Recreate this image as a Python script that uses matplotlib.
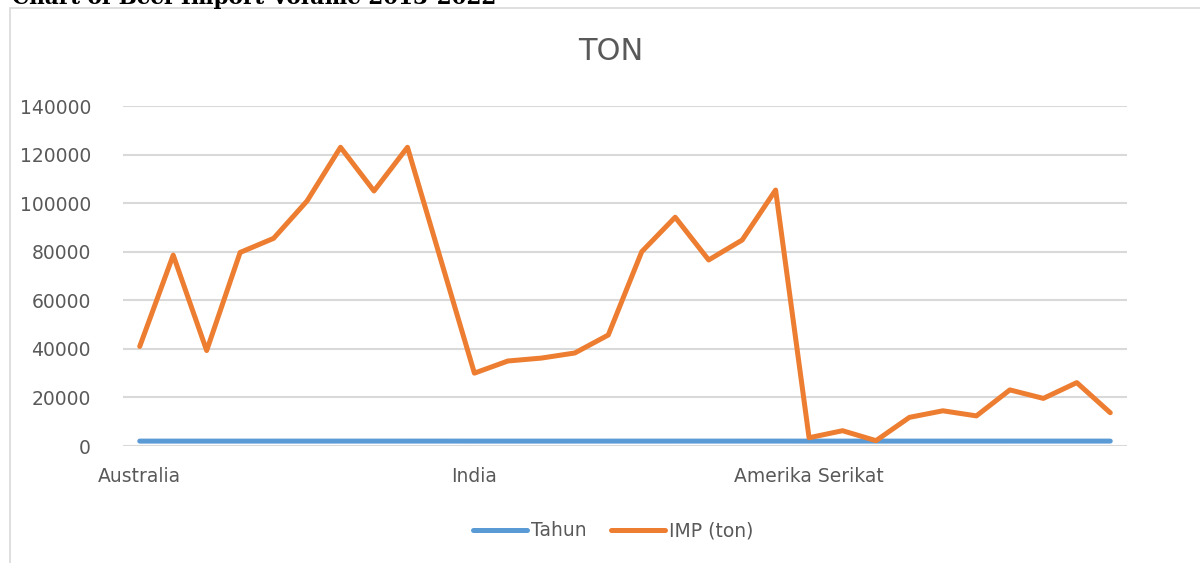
import matplotlib.pyplot as plt
from matplotlib import ticker
from matplotlib.patches import Rectangle

# data
countries = ['Australia', 'India', 'Amerika Serikat']
years = [2013, 2014, 2015, 2016, 2017, 2018, 2019, 2020, 2021, 2022]
tahun = years * len(countries)
imp_ton = [41000, 78600, 39300, 79700, 85500, 100900, 123000, 105000, 123000, 76500,
           30000, 35000, 36200, 38300, 45700, 80000, 94200, 76600, 84800, 105400,
           3400, 6300, 2200, 11800, 14500, 12400, 23100, 19600, 26100, 13700]
y_ticks = [0, 20000, 40000, 60000, 80000, 100000, 120000, 140000]

blue = '#5B9BD5'
orange = '#ED7D31'
grey_txt = '#595959'
grid_c = '#D9D9D9'

W, H = 1200, 563
fig = plt.figure(figsize=(W / 100, H / 100), dpi=100)
plt.rcParams['font.family'] = ['DejaVu Sans']

# chart border (extends beyond the right/bottom edge)
fig.patches.append(Rectangle((10 / W, -20 / H), 1210 / W, (H - 8 + 20) / H,
                             transform=fig.transFigure, fill=False,
                             edgecolor=grid_c, linewidth=1.2, clip_on=False))

# caption above the chart, cut by the top edge as in the page crop
fig.text(12 / W, 1 - 4 / H, 'Chart of Beef Import Volume 2013-2022',
         fontsize=15.5, fontweight='bold', family='DejaVu Serif',
         ha='left', va='baseline', color='black')

ax = fig.add_axes([123 / W, 1 - 446 / H, (1127 - 123) / W, (446 - 106) / H])

x = list(range(len(imp_ton)))
ax.plot(x, tahun, color=blue, linewidth=3.6, solid_capstyle='round',
        label='Tahun', zorder=3)
ax.plot(x, imp_ton, color=orange, linewidth=3.6, solid_capstyle='round',
        solid_joinstyle='round', label='IMP (ton)', zorder=4)

ax.set_xlim(-0.5, len(imp_ton) - 0.5)
ax.set_ylim(0, 140000)
ax.set_yticks(y_ticks)
ax.yaxis.set_major_formatter(ticker.FuncFormatter(lambda v, p: f'{int(v)}'))
ax.set_xticks([0, 10, 20])
ax.set_xticklabels(countries)

ax.grid(axis='y', color=grid_c, linewidth=1.5)
ax.set_axisbelow(True)
for s in ax.spines.values():
    s.set_visible(False)
ax.tick_params(axis='both', length=0, labelsize=13.5, labelcolor=grey_txt)
ax.tick_params(axis='y', pad=23)
ax.tick_params(axis='x', pad=15)

fig.text(611 / W, 1 - 51 / H, 'TON', fontsize=22, color=grey_txt,
         ha='center', va='center')

fig.legend(loc='center', bbox_to_anchor=(613 / W, 1 - 531 / H), ncol=2,
           frameon=False, fontsize=13.5, labelcolor=grey_txt,
           handlelength=2.9, handletextpad=0.2, columnspacing=1.3)

fig.savefig('out.png', dpi=100)
